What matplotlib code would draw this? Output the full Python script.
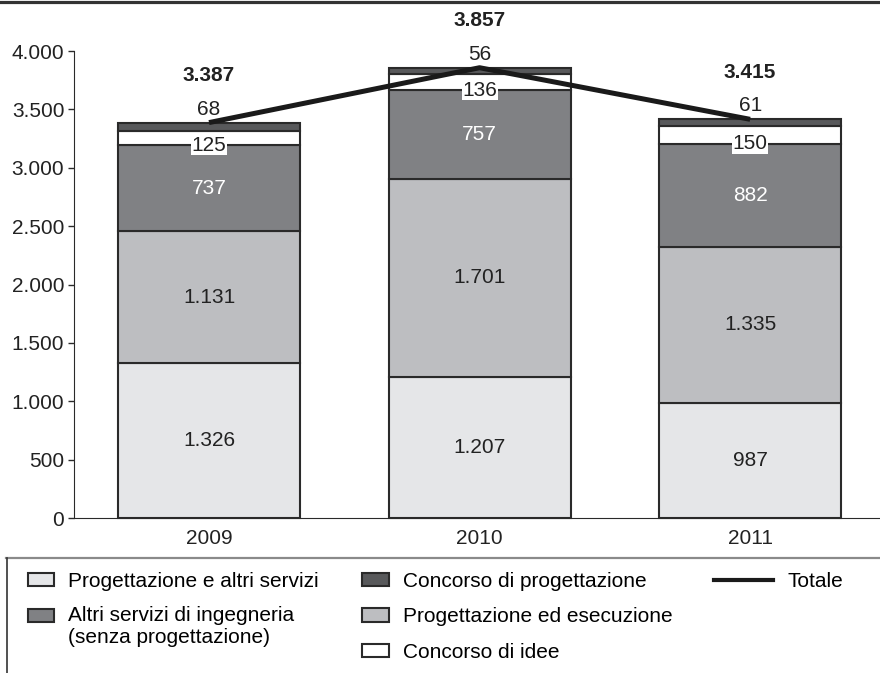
#! /usr/bin/env python

'''
Bandi di progettazione per tipologia, 2009-2011: barre impilate con linea
del totale.
'''

import matplotlib
matplotlib.use("Agg")
import matplotlib.pyplot as pl
from matplotlib.lines import Line2D
from matplotlib.patches import Patch, Rectangle
from matplotlib.legend_handler import HandlerPatch
from matplotlib.ticker import FuncFormatter

pl.rcParams["font.family"] = ["Liberation Sans", "DejaVu Sans"]

#-----------------------------------------------------------------------------#
# Dati
#-----------------------------------------------------------------------------#

years = ["2009", "2010", "2011"]
prog_altri = [1326, 1207, 987]
prog_esec = [1131, 1701, 1335]
altri_ing = [737, 757, 882]
conc_idee = [125, 136, 150]
conc_prog = [68, 56, 61]
totale = [3387, 3857, 3415]

# ordine di impilamento dal basso verso l'alto
series = [
    ("Progettazione e altri servizi", prog_altri, "#e5e6e8", "#222222"),
    ("Progettazione ed esecuzione", prog_esec, "#bdbec1", "#222222"),
    ("Altri servizi di ingegneria\n(senza progettazione)", altri_ing, "#808184", "white"),
    ("Concorso di idee", conc_idee, "white", "#222222"),
    ("Concorso di progettazione", conc_prog, "#58595b", "#222222"),
]


def fmt_it(v, pos=None):
    return "{:,.0f}".format(v).replace(",", ".")


#-----------------------------------------------------------------------------#

fig = pl.figure(figsize=(8.8, 6.73), dpi=100)
ax = fig.add_axes([74 / 880, 155 / 673, 1 - 74 / 880, 502 / 673])

x = list(range(len(years)))
width = 0.673
edge = "#2a2a2a"
fs = 15

bottoms = [0] * len(years)
for label, vals, color, tcol in series:
    ax.bar(x, vals, width, bottom=bottoms, color=color,
           edgecolor=edge, linewidth=1.5, label=label, clip_on=False)
    for i, v in enumerate(vals):
        if label == "Concorso di idee":
            # etichetta sul bordo inferiore, su fondo bianco
            ax.text(x[i], bottoms[i], fmt_it(v), ha="center", va="center",
                    fontsize=fs, color=tcol, zorder=5,
                    bbox=dict(facecolor="white", edgecolor="none", pad=0.5))
        elif label == "Concorso di progettazione":
            ax.text(x[i], totale[i] + 115, fmt_it(v), ha="center",
                    va="center", fontsize=fs, color=tcol, zorder=5)
        else:
            ax.text(x[i], bottoms[i] + v / 2.0, fmt_it(v), ha="center",
                    va="center", fontsize=fs, color=tcol, zorder=5)
    bottoms = [b + v for b, v in zip(bottoms, vals)]

ax.plot(x, totale, color="#1a1a1a", linewidth=3.6, solid_capstyle="butt",
        zorder=4, clip_on=False, label="Totale")
for i, t in enumerate(totale):
    ax.text(x[i], t + 405, fmt_it(t), ha="center", va="center",
            fontsize=fs, fontweight="bold", color="#222222")

ax.set_xlim(-0.499, 2.48)
ax.set_ylim(0, 4300)
ax.set_yticks(range(0, 4001, 500))
ax.yaxis.set_major_formatter(FuncFormatter(fmt_it))
ax.set_xticks(x)
ax.set_xticklabels(years)
ax.tick_params(axis="y", length=4, width=1, color=edge, pad=3,
               labelsize=fs, labelcolor="#222222")
ax.tick_params(axis="x", length=0, pad=8, labelsize=fs, labelcolor="#222222")
for s in ["top", "right"]:
    ax.spines[s].set_visible(False)
ax.spines["left"].set_bounds(0, 4000)
ax.spines["left"].set_color(edge)
ax.spines["bottom"].set_color(edge)
ax.set_facecolor("none")

#-----------------------------------------------------------------------------#
# legenda su tre colonne
#-----------------------------------------------------------------------------#

def mk_patch(label, color):
    return Patch(facecolor=color, edgecolor=edge, linewidth=1.5, label=label)


def top_line_patch(legend, orig_handle, xdescent, ydescent, width, height,
                   fontsize):
    # allinea il quadratino alla prima riga di un'etichetta su due righe
    return Rectangle((-xdescent, -ydescent + 0.52 * fontsize), width, height)


col1 = [mk_patch(series[0][0], series[0][2]), mk_patch(series[2][0], series[2][2])]
col2 = [mk_patch(series[4][0], series[4][2]), mk_patch(series[1][0], series[1][2]),
        mk_patch(series[3][0], series[3][2])]
col3 = [Line2D([], [], color="#1a1a1a", linewidth=3, label="Totale")]

common = dict(frameon=False, fontsize=fs, borderpad=0, borderaxespad=0,
              handletextpad=0.67, loc="upper left")
top = 1 - 572 / 673
fig.legend(handles=col1, bbox_to_anchor=(28 / 880, top),
           handlelength=1.25, handleheight=0.6, labelspacing=0.72,
           handler_map={col1[1]: HandlerPatch(patch_func=top_line_patch)},
           **common)
fig.legend(handles=col2, bbox_to_anchor=(362 / 880, top),
           handlelength=1.3, handleheight=0.6, labelspacing=0.78, **common)
fig.legend(handles=col3, bbox_to_anchor=(714 / 880, top),
           handlelength=2.85, **common)

# bordi della cornice
fig.add_artist(Line2D([0, 1], [1 - 1.5 / 673] * 2, color="#333333",
                      linewidth=2.3, transform=fig.transFigure))
fig.add_artist(Line2D([6 / 880, 1], [1 - 558 / 673] * 2, color="#8a8a8a",
                      linewidth=1.6, transform=fig.transFigure))
fig.add_artist(Line2D([6.5 / 880] * 2, [0, 1 - 558 / 673], color="#333333",
                      linewidth=1.2, transform=fig.transFigure))

fig.savefig("out.png", dpi=100)
